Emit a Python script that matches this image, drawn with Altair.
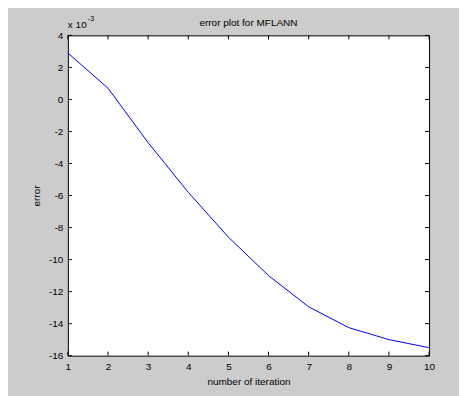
import altair as alt
import pandas as pd

FONT = "Liberation Sans"

iterations = [1, 2, 3, 4, 5, 6, 7, 8, 9, 10]
error_values = [0.0029, 0.0007, -0.0027, -0.0058, -0.0086, -0.0110,
                -0.01295, -0.01425, -0.0150, -0.0155]
x_ticks = [1, 2, 3, 4, 5, 6, 7, 8, 9, 10]
y_ticks = [-0.016, -0.014, -0.012, -0.010, -0.008, -0.006, -0.004,
           -0.002, 0.0, 0.002, 0.004]

chart_title = "error plot for MFLANN"
x_title = "number of iteration"
y_title = "error"
exp_base = "x 10"
exp_power = "-3"

W, H = 362, 321
TL = 4  # tick length

xscale = alt.Scale(domain=[1, 10], nice=False, zero=False)
yscale = alt.Scale(domain=[-0.016, 0.004], nice=False, zero=False)

xaxis = alt.Axis(values=x_ticks, title=x_title, tickSize=0, domain=False,
                 grid=False, labelPadding=6, titlePadding=5, format="d",
                 labelFlush=False, labelOverlap=False)
yaxis = alt.Axis(values=y_ticks, title=y_title, tickSize=0, domain=False,
                 grid=False, labelPadding=5, titlePadding=7,
                 labelExpr="round(datum.value*1000)",
                 labelFlush=False, labelOverlap=False)

df = pd.DataFrame({"iteration": iterations, "error": error_values})
xt = pd.DataFrame({"iteration": x_ticks})
yt = pd.DataFrame({"error": y_ticks})
one = pd.DataFrame({"k": [0]})

line = alt.Chart(df).mark_line(color="#0000ff", strokeWidth=1).encode(
    x=alt.X("iteration:Q", scale=xscale, axis=xaxis),
    y=alt.Y("error:Q", scale=yscale, axis=yaxis),
)

bottom_ticks = alt.Chart(xt).mark_rule(color="black").encode(
    x=alt.X("iteration:Q", scale=xscale, axis=xaxis), y=alt.value(H), y2=alt.value(H - TL))
top_ticks = alt.Chart(xt).mark_rule(color="black").encode(
    x=alt.X("iteration:Q", scale=xscale, axis=xaxis), y=alt.value(0), y2=alt.value(TL))
left_ticks = alt.Chart(yt).mark_rule(color="black").encode(
    y=alt.Y("error:Q", scale=yscale, axis=yaxis), x=alt.value(0), x2=alt.value(TL))
right_ticks = alt.Chart(yt).mark_rule(color="black").encode(
    y=alt.Y("error:Q", scale=yscale, axis=yaxis), x=alt.value(W - TL), x2=alt.value(W))

title_txt = alt.Chart(one).mark_text(
    text=chart_title, align="center", baseline="alphabetic",
    font=FONT, fontSize=10, color="black").encode(
    x=alt.value(W / 2), y=alt.value(-9))
exp1 = alt.Chart(one).mark_text(
    text=exp_base, align="left", baseline="alphabetic",
    font=FONT, fontSize=10, color="black").encode(
    x=alt.value(0), y=alt.value(-7))
exp2 = alt.Chart(one).mark_text(
    text=exp_power, align="left", baseline="alphabetic",
    font=FONT, fontSize=7, color="black").encode(
    x=alt.value(20), y=alt.value(-14))

chart = alt.layer(
    line, bottom_ticks, top_ticks, left_ticks, right_ticks, title_txt, exp1, exp2
).properties(
    width=W, height=H, background="#cccccc",
    padding={"left": 60, "top": 27, "right": 30, "bottom": 40},
    autosize=alt.AutoSizeParams(type="none"),
).configure_view(
    fill="white", stroke="black", strokeWidth=1
).configure_axis(
    labelFont=FONT, labelFontSize=10, labelColor="black",
    titleFont=FONT, titleFontSize=10, titleColor="black", titleFontWeight="normal",
)

chart.save("out.html", embed_options={"renderer": "svg", "actions": False})
